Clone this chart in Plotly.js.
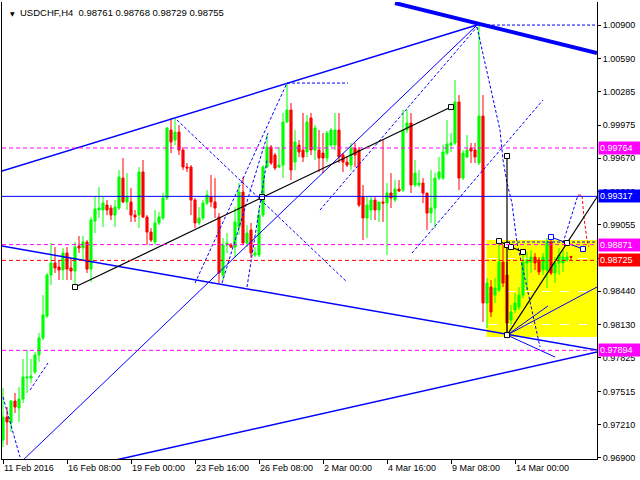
<!DOCTYPE html>
<html>
<head>
<meta charset="utf-8">
<script src="https://cdn.plot.ly/plotly-3.0.1.min.js"></script>
<style>html,body{margin:0;padding:0;background:#fff}#chart{width:640px;height:480px}</style>
</head>
<body>
<div id="chart"></div>
<script>
// ---- OHLC data (USDCHF H4), bar index order ----
const openP = [0.97065,0.97278,0.97222,0.97426,0.97361,0.97444,0.97638,0.97638,0.97694,0.97851,
0.98008,0.98211,0.98590,0.98701,0.98664,0.98636,0.98793,0.98655,0.98627,0.98858,
0.98840,0.98895,0.98645,0.99089,0.99191,0.99191,0.99237,0.99209,0.99144,0.99209,
0.99486,0.99265,0.99265,0.99144,0.99144,0.99542,0.99126,0.98987,0.98895,0.99071,
0.99117,0.99301,0.99930,0.99837,0.99911,0.99745,0.99588,0.99588,0.99283,0.99071,
0.99117,0.99255,0.99311,0.99265,0.99126,0.98590,0.98867,0.98867,0.98849,0.99034,
0.99357,0.98886,0.99006,0.98775,0.98775,0.99144,0.99588,0.99773,0.99699,0.99588,
0.99606,1.00004,1.00115,0.99634,0.99791,0.99745,0.99727,1.00041,0.99745,0.99745,
0.99717,0.99671,0.99791,0.99791,0.99930,0.99699,0.99634,0.99606,0.99763,0.99745,
0.99311,0.99117,0.99191,0.99283,0.99191,0.99265,0.99255,0.99348,0.99283,0.99385,
0.99375,0.99930,0.99994,0.99422,0.99422,0.99440,0.99348,0.99163,0.99209,0.99486,
0.99486,0.99717,0.99791,0.99810,1.00189,0.99486,0.99680,0.99763,0.99745,0.99625,
1.00059,0.98331,0.98479,0.98405,0.98451,0.98710,0.98590,0.98174,0.98267,0.98294,
0.98405,0.98701,0.98710,0.98756,0.98729,0.98636,0.98636,0.98895,0.98609,0.98701,
0.98701,0.98729,0.98761];
const highP = [0.97546,0.97370,0.97435,0.97500,0.97555,0.97814,0.97897,0.97814,0.97878,0.98054,
0.98405,0.98609,0.98886,0.98849,0.98729,0.98840,0.98849,0.98747,0.98895,0.98950,
0.98950,0.98913,0.99126,0.99311,0.99403,0.99311,0.99283,0.99237,0.99283,0.99560,
0.99671,0.99532,0.99394,0.99191,0.99588,0.99653,0.99144,0.99024,0.99191,0.99172,
0.99348,0.99958,1.00041,1.00041,0.99976,0.99773,0.99625,0.99606,0.99301,0.99218,
0.99283,0.99375,0.99514,0.99486,0.99163,0.98932,0.98978,0.98886,0.99218,0.99440,
0.99496,0.99052,0.99071,0.98849,0.99209,0.99606,0.99884,0.99791,0.99717,0.99773,
1.00087,1.00364,1.00179,0.99930,0.99837,1.00087,1.00068,1.00087,0.99976,0.99930,
0.99902,0.99921,0.99948,1.00087,1.00087,0.99717,0.99680,0.99810,0.99810,0.99773,
0.99422,0.99311,0.99311,0.99311,0.99265,0.99837,0.99440,0.99532,0.99468,0.99468,
1.00115,1.00115,1.00087,0.99653,0.99560,0.99486,0.99348,0.99560,0.99532,0.99680,
0.99791,1.00022,0.99902,1.00392,1.00253,0.99745,0.99884,0.99810,0.99810,1.00895,
1.00253,0.98562,0.98544,0.98562,0.98895,0.98867,0.98710,0.98313,0.98424,0.98479,
0.98775,0.98803,0.98821,0.98793,0.98756,0.98793,0.98932,0.98941,0.98756,0.98840,
0.98821,0.98803,0.98768];
const lowP = [0.97001,0.97019,0.97139,0.97315,0.97232,0.97407,0.97500,0.97592,0.97675,0.97786,
0.97989,0.98193,0.98498,0.98609,0.98544,0.98544,0.98544,0.98544,0.98498,0.98793,
0.98729,0.98609,0.98525,0.98978,0.99117,0.99034,0.99144,0.99098,0.99034,0.99191,
0.99255,0.99191,0.99080,0.99080,0.99024,0.99117,0.98867,0.98895,0.98867,0.99052,
0.99098,0.99283,0.99717,0.99791,0.99699,0.99560,0.99542,0.99144,0.99024,0.99052,
0.99098,0.99237,0.99218,0.99117,0.98516,0.98544,0.98793,0.98840,0.98756,0.98960,
0.98867,0.98849,0.98747,0.98756,0.98756,0.99126,0.99579,0.99606,0.99560,0.99579,
0.99486,0.99994,0.99468,0.99560,0.99680,0.99634,0.99680,0.99699,0.99653,0.99542,
0.99532,0.99634,0.99773,0.99745,0.99625,0.99542,0.99588,0.99560,0.99588,0.99218,
0.98913,0.98932,0.99098,0.99098,0.99080,0.99080,0.98775,0.99209,0.99265,0.99357,
0.99357,0.99902,0.99348,0.99403,0.99403,0.99255,0.99006,0.99071,0.99024,0.99468,
0.99468,0.99699,0.99727,0.99791,0.99375,0.99468,0.99671,0.99625,0.99625,0.99606,
0.98156,0.98100,0.98202,0.98331,0.98433,0.98479,0.98035,0.98128,0.98239,0.98267,
0.98377,0.98451,0.98609,0.98636,0.98590,0.98590,0.98470,0.98590,0.98516,0.98590,
0.98618,0.98710,0.98729];
const closeP = [0.97278,0.97232,0.97426,0.97370,0.97444,0.97648,0.97648,0.97657,0.97851,0.98008,
0.98220,0.98590,0.98701,0.98655,0.98636,0.98793,0.98645,0.98627,0.98849,0.98840,
0.98895,0.98645,0.99098,0.99200,0.99209,0.99255,0.99191,0.99144,0.99218,0.99496,
0.99265,0.99311,0.99144,0.99126,0.99542,0.99126,0.98987,0.98913,0.99071,0.99126,
0.99301,0.99948,0.99819,0.99911,0.99745,0.99588,0.99579,0.99283,0.99071,0.99117,
0.99255,0.99329,0.99265,0.99209,0.98609,0.98867,0.98886,0.98849,0.99080,0.99357,
0.98886,0.98978,0.98793,0.98793,0.99144,0.99588,0.99773,0.99625,0.99579,0.99606,
1.00004,1.00115,0.99560,0.99819,0.99727,0.99680,1.00004,0.99745,0.99948,0.99671,
0.99671,0.99902,0.99930,0.99930,0.99680,0.99634,0.99606,0.99763,0.99699,0.99237,
0.99117,0.99237,0.99283,0.99191,0.99265,0.99255,0.99348,0.99301,0.99385,0.99366,
0.99930,0.99994,0.99422,0.99532,0.99440,0.99348,0.99163,0.99209,0.99486,0.99542,
0.99727,0.99800,0.99810,1.00189,0.99486,0.99717,0.99745,0.99736,0.99680,1.00059,
0.98331,0.98516,0.98248,0.98470,0.98710,0.98516,0.98147,0.98248,0.98331,0.98405,
0.98710,0.98729,0.98756,0.98701,0.98618,0.98756,0.98895,0.98609,0.98701,0.98775,
0.98756,0.98756,0.98755];

// ---- axis ticks ----
const xTickBars = [0,16,32,48,64,80,96,112,128];
const xTickLabels = ["11 Feb 2016","16 Feb 08:00","19 Feb 00:00","23 Feb 16:00","26 Feb 08:00","2 Mar 00:00","4 Mar 16:00","9 Mar 08:00","14 Mar 00:00"];
const yTickVals = [1.00900,1.00590,1.00285,0.99975,0.99670,0.99360,0.99055,0.98745,0.98440,0.98130,0.97825,0.97515,0.97210,0.96900];
const yTickLabels = ["1.00900","1.00590","1.00285","0.99975","0.99670","0.99360","0.99055","","0.98440","0.98130","0.97825","0.97515","0.97210","0.96900"];

// ---- horizontal price levels ----
const levelPrices = [0.99764,0.99317,0.98871,0.98725,0.97894];
const levelColors = ["#ff00ff","#0000ff","#ff00ff","#ff0000","#ff00ff"];
const levelDash   = ["4px,3px","solid","4px,3px","4px,3px","4px,3px"];

// ---- drawn objects (bar index, price) ----
const thickLineX = [98,148.5], thickLineY = [1.01103,1.00641];
const channelX = [-0.25,118.5,null,-0.25,148.5,null,26.75,148.5];
const channelY = [0.99551,1.00900,null,0.98858,0.97897,null,0.96869,0.97878];
const thinBlueX = [4.25,118.5,null,126,148.5,null,126,138,null,126,136.25,null,137,141,145];
const thinBlueY = [0.96853,1.00900,null,0.98035,0.98479,null,0.98035,0.97832,null,0.98035,0.98304,null,0.98941,0.98886,0.98830];
const blackX = [18,112,null,126,126,null,126,148.5,null,124,126,127,130];
const blackY = [0.98479,1.00142,null,0.99690,0.98035,null,0.98035,0.99311,null,0.98904,0.98867,0.98849,0.98803];
const dashBlueX = [43.5,86,null,0,4.25,null,6.75,11.25,null,71,86.25,null,102.25,135,null,79.25,118.5,null,118.5,148.5,null,126,148.5,null,
  48,71,null,54.75,66.25,null,61,66,null,140,143.75,null,
  118.5,120.5,122.25,124.25,125,126,127.25,128.5,129.75,131.25,132.75,133.75,134.25];
const dashBlueY = [1.00022,0.98525,null,0.97463,0.96908,null,0.97527,0.97777,null,1.00364,1.00364,null,0.98793,1.00207,null,0.99191,1.00882,null,1.00900,1.00900,null,0.98895,0.98895,null,
  0.98516,1.00364,null,0.98516,0.99902,null,0.98479,0.99653,null,0.98886,0.99329,null,
  1.00882,1.00558,1.00253,0.99930,0.99653,0.99440,0.99255,0.98886,0.98682,0.98424,0.98193,0.98017,0.97925];
const dashRedX = [143.75,144.75,145.25,146,146.5];
const dashRedY = [0.99329,0.99329,0.99117,0.98913,0.98849];
const sqBlackX = [18,64.75,112,126,124,126,127,130,141,126];
const sqBlackY = [0.98479,0.99311,1.00142,0.99690,0.98904,0.98867,0.98849,0.98803,0.98886,0.98035];
const sqBlueX = [137,145], sqBlueY = [0.98941,0.98830];
const boxX = [120.9,148.6], boxY = [0.98017,0.98913];

const FONT = "Liberation Sans, Arial, sans-serif";
const barIdx = openP.map((_, i) => i);

const traces = [
  {type:'candlestick', x:barIdx, open:openP, high:highP, low:lowP, close:closeP,
   increasing:{line:{color:'#00ff00',width:1}, fillcolor:'#00ff00'},
   decreasing:{line:{color:'#ff0000',width:1}, fillcolor:'#ff0000'},
   whiskerwidth:0, hoverinfo:'skip'},
  {type:'scatter', mode:'lines', x:channelX, y:channelY, line:{color:'#0000ff',width:1.5}, hoverinfo:'skip'},
  {type:'scatter', mode:'lines', x:thinBlueX, y:thinBlueY, line:{color:'#0000ff',width:1}, hoverinfo:'skip'},
  {type:'scatter', mode:'lines', x:dashBlueX, y:dashBlueY, line:{color:'#0000ff',width:1,dash:'3px,2px'}, hoverinfo:'skip'},
  {type:'scatter', mode:'lines', x:dashRedX, y:dashRedY, line:{color:'#ff0000',width:1,dash:'3px,2px'}, hoverinfo:'skip'},
  {type:'scatter', mode:'lines', x:thickLineX, y:thickLineY, line:{color:'#0000ff',width:4}, hoverinfo:'skip'},
  {type:'scatter', mode:'lines', x:blackX, y:blackY, line:{color:'#000000',width:1.2}, hoverinfo:'skip'},
  {type:'scatter', mode:'markers', x:sqBlackX, y:sqBlackY, marker:{symbol:'square',size:5,color:'#ffffff',line:{color:'#000000',width:1}}, hoverinfo:'skip'},
  {type:'scatter', mode:'markers', x:sqBlueX, y:sqBlueY, marker:{symbol:'square',size:5,color:'#ffffff',line:{color:'#0000ff',width:1}}, hoverinfo:'skip'}
];

const shapes = [
  {type:'rect', xref:'x', yref:'y', x0:boxX[0], x1:boxX[1], y0:boxY[0], y1:boxY[1], fillcolor:'#ffff00', line:{width:0}, layer:'below'}
];
levelPrices.forEach((p, i) => {
  shapes.push({type:'line', xref:'paper', yref:'y', x0:0, x1:1, y0:p, y1:p,
    line:{color:levelColors[i], width:1, dash:levelDash[i]}, layer:'above'});
});

const annotations = levelPrices.map((p, i) => ({
  xref:'paper', yref:'y', x:1, y:p, xanchor:'left', yanchor:'middle', xshift:1,
  text:p.toFixed(5), showarrow:false, bgcolor:levelColors[i], borderpad:1,
  width:40, height:10, align:'left',
  font:{family:FONT, size:9, color:'#ffffff'}
}));
annotations.push({xref:'paper', yref:'paper', x:0.01, y:1, xanchor:'left', yanchor:'top', yshift:-6,
  text:'▼', showarrow:false, font:{family:'DejaVu Sans', size:6, color:'#000000'}});
annotations.push({xref:'paper', yref:'paper', x:0.027, y:1, xanchor:'left', yanchor:'top', yshift:-3,
  text:'USDCHF,H4\u00a0\u00a0' + [openP[142], highP[142], lowP[142], closeP[142]].map(v => v.toFixed(5)).join(' '),
  showarrow:false, font:{family:FONT, size:9.5, color:'#000000'}});

const layout = {
  width:640, height:480,
  margin:{l:2, r:43, t:2, b:21, pad:0},
  paper_bgcolor:'#ffffff', plot_bgcolor:'#ffffff',
  showlegend:false, boxgap:0.25,
  xaxis:{type:'linear', range:[-0.25,148.5], tickmode:'array', tickvals:xTickBars, ticktext:xTickLabels,
    ticks:'outside', ticklen:4, tickcolor:'#000', showline:true, linecolor:'#000', linewidth:1,
    showgrid:false, zeroline:false,
    ticklabelposition:'outside right',
    tickfont:{family:FONT, size:9, color:'#000'}, rangeslider:{visible:false}, fixedrange:true},
  yaxis:{side:'right', range:[0.96890,1.01113], tickmode:'array', tickvals:yTickVals, ticktext:yTickLabels,
    ticks:'outside', ticklen:3, tickcolor:'#000', showline:true, mirror:true, linecolor:'#000', linewidth:1,
    showgrid:true, gridcolor:'#ffffff', griddash:'dash', zeroline:false,
    tickfont:{family:FONT, size:9, color:'#000'}, fixedrange:true},
  shapes:shapes, annotations:annotations
};

Plotly.newPlot('chart', traces, layout, {staticPlot:true, displayModeBar:false});
</script>
</body>
</html>
